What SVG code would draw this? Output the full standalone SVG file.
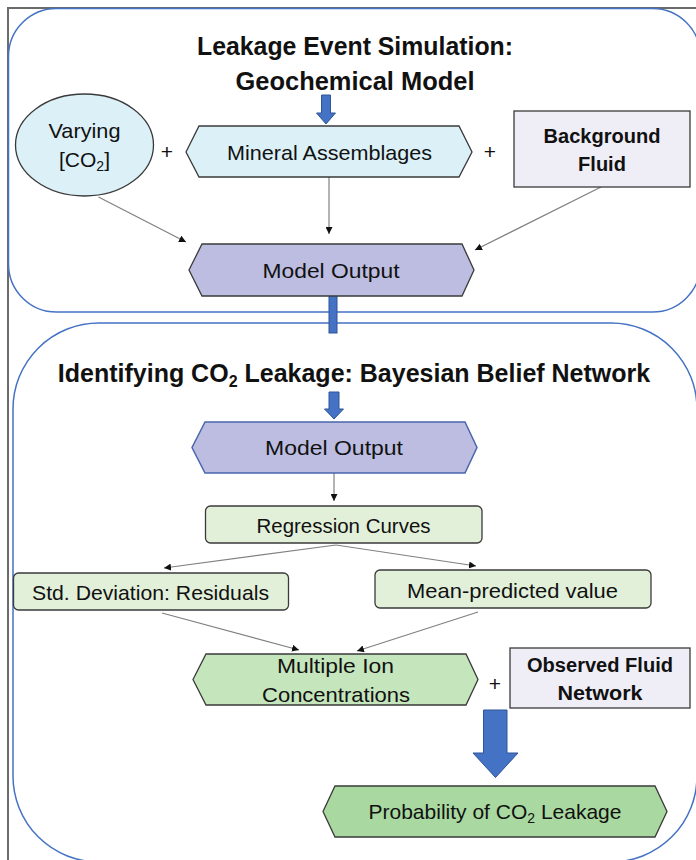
<svg xmlns="http://www.w3.org/2000/svg" width="696" height="860" viewBox="0 0 696 860">
<defs>
<style>
.t{font-family:"Liberation Sans",Arial,sans-serif;fill:#111;text-anchor:middle}
.r{font-size:21px}
.b{font-size:20px;font-weight:bold}
.h{font-size:25px;font-weight:bold}
.node{stroke:#3a3a3a;stroke-width:1.3}
.cy{fill:#dcf0f7}
.lav{fill:#efeef7}
.mo{fill:#bcbde0}
.lg{fill:#e2f0d9}
.mg{fill:#c5e6bd}
.dg{fill:#a9d9a0}
.frame{fill:none;stroke:#4472c4;stroke-width:1.5}
.conn{stroke:#808080;stroke-width:1.2;fill:none;marker-end:url(#ah)}
.blue{fill:#4472c4;stroke:#2f5597;stroke-width:1}
</style>
<marker id="ah" viewBox="0 0 10 10" refX="10" refY="5" markerWidth="7" markerHeight="7" markerUnits="userSpaceOnUse" orient="auto">
<path d="M0,0 L10,5 L0,10 z" fill="#111"/>
</marker>
</defs>
<rect width="696" height="860" fill="#fff"/>
<!-- outer gray frame -->
<path d="M8,860 L8,8 L696,8" fill="none" stroke="#6b6b6b" stroke-width="2"/>
<!-- containers -->
<g id="container-top">
<rect class="frame" x="8.5" y="8.5" width="692" height="303.5" rx="48" ry="48"/>
</g>
<g id="container-bottom">
<rect class="frame" x="13" y="323" width="684" height="539" rx="86" ry="86"/>
</g>
<!-- titles -->
<g id="title-top">
<text class="t h" x="355" y="55" textLength="316" lengthAdjust="spacingAndGlyphs">Leakage Event Simulation:</text>
<text class="t h" x="355" y="90" textLength="239" lengthAdjust="spacingAndGlyphs">Geochemical Model</text>
</g>
<g id="title-bottom">
<text class="t h" x="354" y="382">Identifying CO<tspan font-size="16" dy="5">2</tspan><tspan dy="-5"> Leakage: Bayesian Belief Network</tspan></text>
</g>
<!-- connectors -->
<g id="connectors">
<path class="blue" d="M321.5,95 H330.5 V113 H335.5 L326,124 L316.5,113 H321.5 Z"/>
<path class="blue" d="M329,392 H339 V409 H343.5 L334,419 L324.5,409 H329 Z"/>
<rect class="blue" x="329" y="295" width="8" height="38"/>
<path class="blue" d="M483.5,710 H507 V753 H518 L495.5,777.5 L473,753 H483.5 Z"/>
<line class="conn" x1="98.5" y1="197" x2="186" y2="242"/>
<line class="conn" x1="329" y1="177" x2="329" y2="234"/>
<line class="conn" x1="601" y1="187" x2="475" y2="250"/>
<line class="conn" x1="334" y1="473" x2="334" y2="501"/>
<line class="conn" x1="336" y1="545" x2="164" y2="568"/>
<line class="conn" x1="336" y1="545" x2="476" y2="566"/>
<line class="conn" x1="162" y1="613" x2="299" y2="650"/>
<line class="conn" x1="478" y1="612" x2="357" y2="651"/>
</g>
<!-- plus signs -->
<g id="plus-signs">
<text class="t r" x="167" y="159">+</text>
<text class="t r" x="490" y="159">+</text>
<text class="t r" x="495" y="691">+</text>
</g>
<!-- nodes -->
<g id="varying-co2">
<ellipse class="node cy" cx="84.5" cy="145" rx="69" ry="51"/>
<text class="t r" x="84.5" y="138" textLength="72" lengthAdjust="spacingAndGlyphs">Varying</text>
<text class="t r" x="84.5" y="167">[CO<tspan font-size="14" dy="4">2</tspan><tspan dy="-4">]</tspan></text>
</g>
<g id="mineral-assemblages">
<polygon class="node cy" points="186,152 199,126 459,126 472,152 459,177 199,177"/>
<text class="t r" x="329.5" y="160" textLength="205" lengthAdjust="spacingAndGlyphs">Mineral Assemblages</text>
</g>
<g id="background-fluid">
<rect class="node lav" x="514" y="111" width="176" height="76"/>
<text class="t b" x="602" y="143" textLength="117" lengthAdjust="spacingAndGlyphs">Background</text>
<text class="t b" x="602" y="171">Fluid</text>
</g>
<g id="model-output-top">
<polygon class="node mo" points="189,270 202,244 462,244 474,270 462,296 202,296"/>
<text class="t r" x="331" y="278" textLength="137" lengthAdjust="spacingAndGlyphs">Model Output</text>
</g>
<g id="model-output-bottom">
<polygon class="mo" stroke="#4a66ac" stroke-width="1.5" points="192,447.5 205,422 465,422 477,447.5 465,473 205,473"/>
<text class="t r" x="334" y="455" textLength="138" lengthAdjust="spacingAndGlyphs">Model Output</text>
</g>
<g id="regression-curves">
<rect class="node lg" x="205.5" y="506" width="276.5" height="37" rx="5"/>
<text class="t r" x="343.5" y="533" textLength="174" lengthAdjust="spacingAndGlyphs">Regression Curves</text>
</g>
<g id="std-deviation">
<rect class="node lg" x="13.5" y="573" width="275" height="37" rx="5"/>
<text class="t r" x="150.5" y="600" textLength="237" lengthAdjust="spacingAndGlyphs">Std. Deviation: Residuals</text>
</g>
<g id="mean-predicted">
<rect class="node lg" x="375" y="570" width="276" height="38" rx="5"/>
<text class="t r" x="512.5" y="598" textLength="211" lengthAdjust="spacingAndGlyphs">Mean-predicted value</text>
</g>
<g id="multiple-ion">
<polygon class="node mg" points="193,679.5 206,654 466,654 478,679.5 466,705 206,705"/>
<text class="t r" x="335.5" y="673" textLength="117" lengthAdjust="spacingAndGlyphs">Multiple Ion</text>
<text class="t r" x="336" y="702" textLength="148" lengthAdjust="spacingAndGlyphs">Concentrations</text>
</g>
<g id="observed-fluid-network">
<rect class="node lav" x="510" y="648" width="180" height="60"/>
<text class="t b" x="600" y="672" textLength="146" lengthAdjust="spacingAndGlyphs">Observed Fluid</text>
<text class="t b" x="600" y="700" textLength="85" lengthAdjust="spacingAndGlyphs">Network</text>
</g>
<g id="probability-leakage">
<polygon class="node dg" points="323,811.5 335,786 655,786 667,811.5 655,837 335,837"/>
<text class="t r" x="495" y="819">Probability of CO<tspan font-size="14" dy="4">2</tspan><tspan dy="-4"> Leakage</tspan></text>
</g>
</svg>
